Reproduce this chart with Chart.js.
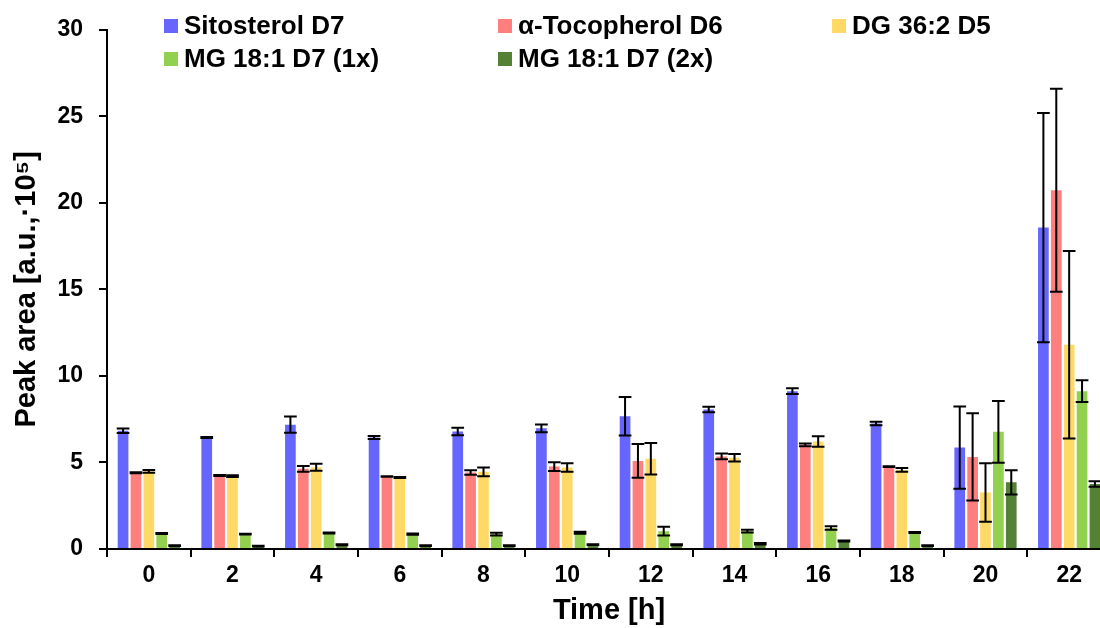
<!DOCTYPE html>
<html>
<head>
<meta charset="utf-8">
<script src="https://cdn.jsdelivr.net/npm/chart.js@4.4.1/dist/chart.umd.min.js"></script>
<style>
  html, body { margin: 0; padding: 0; background: #fff; overflow: hidden; }
  #wrap { width: 1116px; height: 628px; }
</style>
</head>
<body>
<div id="wrap"><canvas id="peakChart" width="1116" height="628"></canvas></div>
<script>
// --- DATA ---
const times = ['0', '2', '4', '6', '8', '10', '12', '14', '16', '18', '20', '22'];
const seriesNames = ['Sitosterol D7', 'α-Tocopherol D6', 'DG 36:2 D5', 'MG 18:1 D7 (1x)', 'MG 18:1 D7 (2x)'];

const sitosterol    = [6.83, 6.44, 7.18, 6.44, 6.79, 6.97, 7.67, 8.06, 9.12, 7.25, 5.86, 18.57];
const sitosterolErr = [0.13, 0.03, 0.47, 0.09, 0.22, 0.22, 1.11, 0.16, 0.17, 0.10, 2.38, 6.62];
const tocopherol    = [4.40, 4.25, 4.63, 4.19, 4.42, 4.76, 5.09, 5.35, 6.02, 4.76, 5.32, 20.73];
const tocopherolErr = [0.03, 0.03, 0.17, 0.02, 0.13, 0.25, 0.98, 0.17, 0.08, 0.02, 2.52, 5.87];
const dg362         = [4.49, 4.21, 4.72, 4.13, 4.46, 4.71, 5.21, 5.27, 6.21, 4.57, 3.27, 11.80];
const dg362Err      = [0.08, 0.05, 0.20, 0.03, 0.25, 0.24, 0.91, 0.22, 0.30, 0.11, 1.69, 5.42];
const mg1x          = [0.90, 0.86, 0.92, 0.86, 0.86, 0.94, 1.03, 1.03, 1.21, 0.95, 6.77, 9.12];
const mg1xErr       = [0.03, 0.02, 0.03, 0.03, 0.08, 0.06, 0.25, 0.08, 0.10, 0.03, 1.78, 0.63];
const mg2x          = [0.19, 0.17, 0.25, 0.19, 0.19, 0.25, 0.25, 0.30, 0.46, 0.19, 3.85, 3.75];
const mg2xErr       = [0.02, 0.02, 0.03, 0.02, 0.02, 0.02, 0.03, 0.04, 0.03, 0.02, 0.70, 0.16];

const yTicks = [0, 5, 10, 15, 20, 25, 30];

const colors = ['#6666FF', '#FF7F7F', '#FFD966', '#92D050', '#548235'];
const values = [sitosterol, tocopherol, dg362, mg1x, mg2x];
const errors = [sitosterolErr, tocopherolErr, dg362Err, mg1xErr, mg2xErr];

const FONT = '"Liberation Sans", Arial, sans-serif';

// error bars drawn from the y scale
const errorBarPlugin = {
    id: 'errorBars',
    afterDatasetsDraw(chart) {
        const ctx = chart.ctx;
        const y = chart.scales.y;
        ctx.save();
        ctx.strokeStyle = '#000';
        ctx.lineWidth = 2;
        chart.data.datasets.forEach((ds, di) => {
            const meta = chart.getDatasetMeta(di);
            meta.data.forEach((bar, i) => {
                const v = ds.data[i], e = ds.errors[i];
                const top = y.getPixelForValue(v + e);
                const bot = y.getPixelForValue(Math.max(0, v - e));
                const half = bar.width / 2 + 1;
                ctx.beginPath();
                ctx.moveTo(bar.x, top); ctx.lineTo(bar.x, bot);
                ctx.moveTo(bar.x - half, top); ctx.lineTo(bar.x + half, top);
                ctx.moveTo(bar.x - half, bot); ctx.lineTo(bar.x + half, bot);
                ctx.stroke();
            });
        });
        ctx.restore();
    }
};

// 3-column legend laid over the top of the plot
const legendPlugin = {
    id: 'gridLegend',
    afterDraw(chart) {
        const ctx = chart.ctx;
        const cols = [164, 498, 832], rows = [26, 59];
        ctx.save();
        ctx.font = 'bold 26px ' + FONT;
        ctx.textBaseline = 'middle';
        chart.data.datasets.forEach((ds, i) => {
            const x = cols[i % 3], yy = rows[Math.floor(i / 3)];
            ctx.fillStyle = ds.backgroundColor;
            ctx.fillRect(x, yy - 7, 14, 14);
            ctx.fillStyle = '#000';
            ctx.fillText(ds.label, x + 20, yy + 1);
        });
        ctx.restore();
    }
};

const datasets = seriesNames.map((name, i) => ({
    label: name,
    data: values[i],
    errors: errors[i],
    backgroundColor: colors[i],
    borderWidth: 0,
    categoryPercentage: 0.77,
    barPercentage: 0.83
}));

new Chart(document.getElementById('peakChart'), {
    type: 'bar',
    data: { labels: times, datasets: datasets },
    options: {
        responsive: false,
        animation: false,
        layout: { padding: { top: 26, right: 5, left: 0, bottom: 0 } },
        plugins: { legend: { display: false }, tooltip: { enabled: false } },
        scales: {
            x: {
                grid: { display: true, drawOnChartArea: false, color: '#000', lineWidth: 2, tickLength: 8, offset: true },
                border: { display: true, color: '#000', width: 2 },
                ticks: { color: '#000', font: { family: FONT, size: 23, weight: 'bold' }, padding: 5, maxRotation: 0 },
                title: { display: true, text: 'Time [h]', color: '#000', font: { family: FONT, size: 29, weight: 'bold' }, padding: { top: 0, bottom: 0 } },
                afterFit(scale) { scale.height = 79; }
            },
            y: {
                min: 0, max: 30,
                afterBuildTicks(scale) { scale.ticks = yTicks.map(v => ({ value: v })); },
                grid: { display: true, drawOnChartArea: false, color: '#000', lineWidth: 2, tickLength: 8 },
                border: { display: true, color: '#000', width: 2 },
                ticks: { color: '#000', font: { family: FONT, size: 23, weight: 'bold' }, padding: 16 },
                title: { display: true, text: 'Peak area [a.u.,·10⁵]', color: '#000', font: { family: FONT, size: 29, weight: 'bold' }, padding: { top: 10, bottom: 0 } },
                afterFit(scale) { scale.width = 107; }
            }
        }
    },
    plugins: [errorBarPlugin, legendPlugin]
});
</script>
</body>
</html>
